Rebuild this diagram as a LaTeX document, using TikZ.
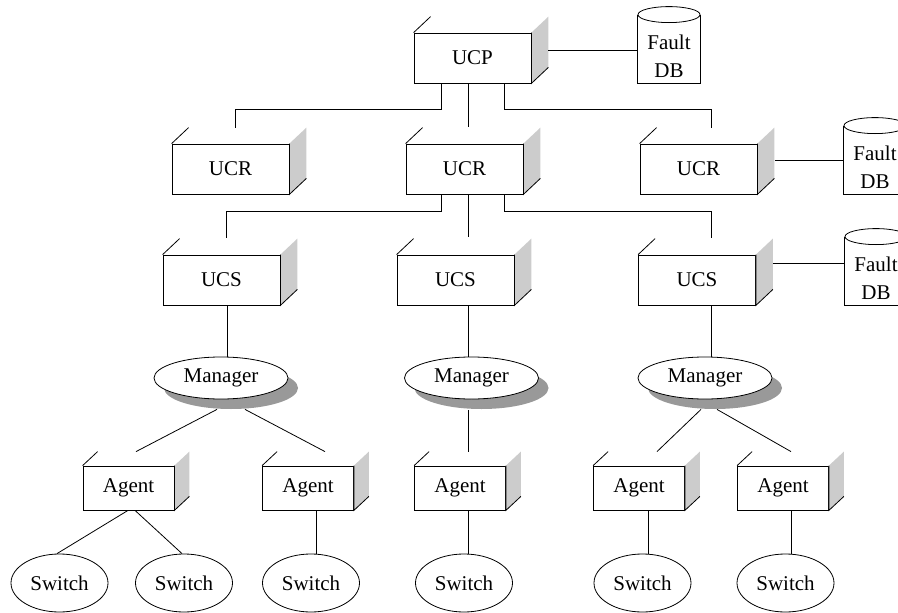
\documentclass[tikz,border=0pt]{standalone}
\usepackage{fontspec}
\setmainfont{Liberation Serif}
\usetikzlibrary{shapes.geometric,shadows}
\definecolor{sidegray}{HTML}{CCCCCC}
\definecolor{shadegray}{HTML}{999999}

% right-hand shaded face and top-left edge of a 3D block
\newcommand{\blockdeco}[3]{%
  \fill[sidegray] (#1.north east) -- ++(#2pt,#3pt) -- ([shift={(#2pt,#3pt)}]#1.south east) -- (#1.south east) -- cycle;
  \draw (#1.north east) -- (#1.south east) -- ++(#2pt,#3pt);
  \draw (#1.north west) -- ++(#2pt,#3pt);
}
% database cylinder with a flat base around a named body node
\newcommand{\faultdb}[3]{% name, centre x, centre y of body
  \node[dbbody] (#1) at (#2,#3) {};
  \node[align=center] (#1text) at ([yshift=-7pt]#1.center) {Fault\\DB};
  \draw (#1.north west) -- (#1.south west) -- (#1.south east) -- (#1.north east);
  \draw[fill=white] (#1.north) ellipse [x radius=31pt, y radius=8pt];
}

\begin{document}
\begin{tikzpicture}[x=1pt,y=-1pt,line width=0.8pt,
  every node/.style={font=\fontsize{21}{28}\selectfont, inner sep=0pt},
  unit/.style={draw, fill=white, minimum width=117pt, minimum height=50pt},
  agentbox/.style={draw, fill=white, minimum width=91pt, minimum height=44pt},
  manager/.style={ellipse, draw, fill=white, minimum width=134pt, minimum height=42pt,
    general shadow={fill=shadegray, shadow xshift=10pt, shadow yshift=-10pt}},
  switchnode/.style={ellipse, draw, fill=white, minimum width=97pt, minimum height=58pt},
  dbbody/.style={minimum width=62pt, minimum height=68pt},
]
\useasboundingbox (0,0) rectangle (898,613);
\clip (0,0) rectangle (898,613);

% control units
\node[unit] (ucp)  at (472.5,58) {UCP};
\node[unit] (ucrL) at (230.5,169) {UCR};
\node[unit] (ucrM) at (464.5,169) {UCR};
\node[unit] (ucrR) at (698.5,169) {UCR};
\node[unit] (ucsL) at (221.5,280) {UCS};
\node[unit] (ucsM) at (455.5,280) {UCS};
\node[unit] (ucsR) at (697,280) {UCS};

% managers
\node[manager] (mL) at (221,378) {Manager};
\node[manager] (mM) at (471.5,378) {Manager};
\node[manager] (mR) at (705,378) {Manager};

% agents
\node[agentbox] (a1) at (128.5,488) {Agent};
\node[agentbox] (a2) at (308,488) {Agent};
\node[agentbox] (a3) at (460,488) {Agent};
\node[agentbox] (a4) at (639,488) {Agent};
\node[agentbox] (a5) at (783,488) {Agent};

% switches
\node[switchnode] (s1) at (59.5,583) {Switch};
\node[switchnode] (s2) at (184,583) {Switch};
\node[switchnode] (s3) at (311,583) {Switch};
\node[switchnode] (s4) at (464,583) {Switch};
\node[switchnode] (s5) at (642.5,583) {Switch};
\node[switchnode] (s6) at (785.5,583) {Switch};

% 3D faces
\foreach \n in {ucp,ucrL,ucrM,ucrR,ucsL,ucsM,ucsR} {\blockdeco{\n}{17}{16}}
\foreach \n in {a1,a2,a3,a4,a5} {\blockdeco{\n}{15}{14}}

% fault databases
\faultdb{db1}{669}{49}
\faultdb{db2}{875}{160}
\faultdb{db3}{876}{271}

% UCP to UCRs
\draw ([xshift=28pt]ucp.south west) |- ([shift={(4.5pt,34pt)}]ucrL.north) -- ([shift={(4.5pt,16pt)}]ucrL.north);
\draw ([xshift=-4.5pt]ucp.south) -- ([shift={(3.5pt,17pt)}]ucrM.north);
\draw ([xshift=-27pt]ucp.south east) |- ([shift={(12.5pt,34pt)}]ucrR.north) -- ([shift={(12.5pt,16pt)}]ucrR.north);

% UCR to UCSs
\draw ([xshift=36pt]ucrM.south west) |- ([shift={(4.5pt,43pt)}]ucsL.north) -- ([shift={(4.5pt,17pt)}]ucsL.north);
\draw ([xshift=3.5pt]ucrM.south) -- ([shift={(12.5pt,18pt)}]ucsM.north);
\draw ([xshift=-19pt]ucrM.south east) |- ([shift={(14pt,43pt)}]ucsR.north) -- ([shift={(14pt,17pt)}]ucsR.north);

% links to the fault databases
\coordinate (p1) at ([shift={(17pt,8pt)}]ucp.east);
\coordinate (p2) at ([shift={(18pt,9pt)}]ucrR.east);
\coordinate (p3) at ([shift={(17.5pt,17pt)}]ucsR.east);
\draw (p1) -- (p1 -| db1.west);
\draw (p2) -- (p2 -| db2.west);
\draw (p3) -- (p3 -| db3.west);

% UCS to managers
\draw ([xshift=5.5pt]ucsL.south) -- ([xshift=5.5pt]ucsL.south |- mL.north);
\draw ([xshift=12.5pt]ucsM.south) -- ([xshift=12.5pt]ucsM.south |- mM.north);
\draw ([xshift=14pt]ucsR.south) -- ([xshift=14pt]ucsR.south |- mR.north);

% managers to agents
\draw ([shift={(-4pt,-10pt)}]mL.south) -- ([shift={(7.5pt,14pt)}]a1.north);
\draw ([shift={(24pt,-10pt)}]mL.south) -- ([shift={(17pt,14pt)}]a2.north);
\draw ([shift={(-3.5pt,-11pt)}]mM.south) -- ([shift={(8pt,14pt)}]a3.north);
\draw ([shift={(-4pt,-10pt)}]mR.south) -- ([shift={(18pt,14pt)}]a4.north);
\draw ([shift={(12pt,-10pt)}]mR.south) -- ([shift={(8pt,14pt)}]a5.north);

% agents to switches
\draw ([xshift=-0.5pt]a1.south) -- ([xshift=-2.5pt]s1.north);
\draw ([xshift=6.5pt]a1.south) -- ([xshift=-2pt]s2.north);
\draw ([xshift=8pt]a2.south) -- ([xshift=8pt]a2.south |- s3.north);
\draw ([xshift=8pt]a3.south) -- ([xshift=8pt]a3.south |- s4.north);
\draw ([xshift=9pt]a4.south) -- ([xshift=9pt]a4.south |- s5.north);
\draw ([xshift=8pt]a5.south) -- ([xshift=8pt]a5.south |- s6.north);
\end{tikzpicture}
\end{document}
